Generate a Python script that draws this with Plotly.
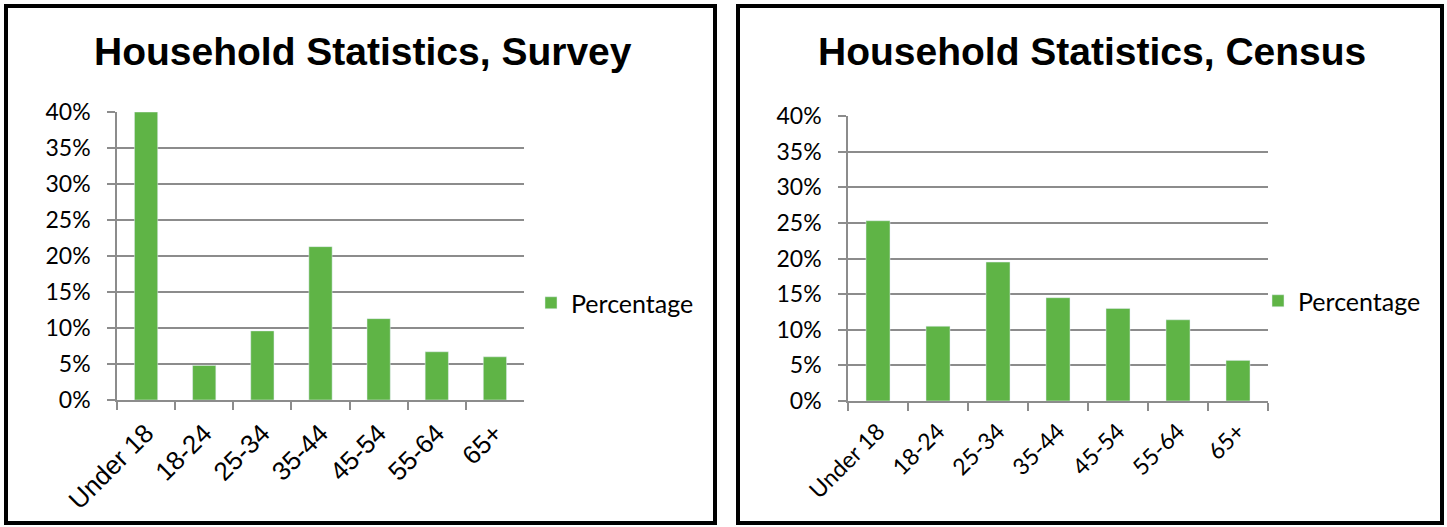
import plotly.graph_objects as go

categories = ["Under 18", "18-24", "25-34", "35-44", "45-54", "55-64", "65+"]
survey_pct = [0.40, 0.048, 0.096, 0.213, 0.113, 0.067, 0.060]
census_pct = [0.253, 0.105, 0.195, 0.145, 0.130, 0.114, 0.057]
y_ticks = [0, 0.05, 0.10, 0.15, 0.20, 0.25, 0.30, 0.35, 0.40]
y_tick_text = ["0%", "5%", "10%", "15%", "20%", "25%", "30%", "35%", "40%"]
titles = ["Household Statistics, Survey", "Household Statistics, Census"]
series_name = "Percentage"

W, H = 1447, 527
def px(x): return x / W
def py(y): return 1 - y / H

GREEN = "#5FB446"
GRID = "#8C8C8C"
CAL = "Lato, Carlito, Calibri, sans-serif"
ARIAL = "Liberation Sans, Arial, sans-serif"

fig = go.Figure()
fig.add_trace(go.Bar(x=categories, y=survey_pct, name=series_name, marker_color=GREEN,
                     xaxis="x", yaxis="y", legend="legend"))
fig.add_trace(go.Bar(x=categories, y=census_pct, name=series_name, marker_color=GREEN,
                     xaxis="x2", yaxis="y2", legend="legend2"))

def xax(domain, anchor, fam, size):
    return dict(domain=domain, anchor=anchor, showline=True, linecolor=GRID, linewidth=1.5,
                ticks="outside", ticklen=8, tickcolor=GRID, tickwidth=1.5, tickson="boundaries",
                tickangle=-45, tickfont=dict(family=fam, size=size, color="black"),
                ticklabelstandoff=6,
                showgrid=False, fixedrange=True, automargin=False)

def yax(domain, anchor):
    return dict(domain=domain, anchor=anchor, range=[0, 0.40], tickvals=y_ticks, ticktext=y_tick_text,
                showline=True, linecolor=GRID, linewidth=1.5, ticks="outside", ticklen=8,
                tickcolor=GRID, tickwidth=1.5, showgrid=True, gridcolor=GRID, gridwidth=1.5,
                tickfont=dict(family=CAL, size=23, color="black"), ticklabelstandoff=12,
                zeroline=False, fixedrange=True, automargin=False)

fig.update_layout(
    width=W, height=H, margin=dict(l=0, r=0, t=0, b=0, pad=0, autoexpand=False),
    paper_bgcolor="white", plot_bgcolor="white", bargap=0.6, showlegend=True,
    xaxis=xax([px(117), px(524)], "y", ARIAL, 26),
    yaxis=yax([py(400), py(112)], "x"),
    xaxis2=xax([px(848), px(1268)], "y2", CAL, 23),
    yaxis2=yax([py(401), py(116)], "x2"),
    legend=dict(x=px(531), y=py(303), xanchor="left", yanchor="middle",
                font=dict(family=CAL, size=25, color="black"), bgcolor="rgba(0,0,0,0)", itemwidth=30),
    legend2=dict(x=px(1258), y=py(301), xanchor="left", yanchor="middle",
                 font=dict(family=CAL, size=25, color="black"), bgcolor="rgba(0,0,0,0)", itemwidth=30),
    shapes=[
        dict(type="rect", xref="paper", yref="paper", x0=px(6), x1=px(715), y0=py(523), y1=py(6),
             line=dict(color="black", width=4)),
        dict(type="rect", xref="paper", yref="paper", x0=px(738), x1=px(1442), y0=py(523), y1=py(6),
             line=dict(color="black", width=4)),
    ],
    annotations=[
        dict(text="<b>%s</b>" % titles[0], xref="paper", yref="paper", x=px(363), y=py(52),
             showarrow=False, font=dict(family=ARIAL, size=39, color="black"), xanchor="center", yanchor="middle"),
        dict(text="<b>%s</b>" % titles[1], xref="paper", yref="paper", x=px(1092), y=py(52),
             showarrow=False, font=dict(family=ARIAL, size=39, color="black"), xanchor="center", yanchor="middle"),
    ],
)

fig.write_html("out.html", config={"displayModeBar": False},
               post_script="document.body.style.margin='0';")
